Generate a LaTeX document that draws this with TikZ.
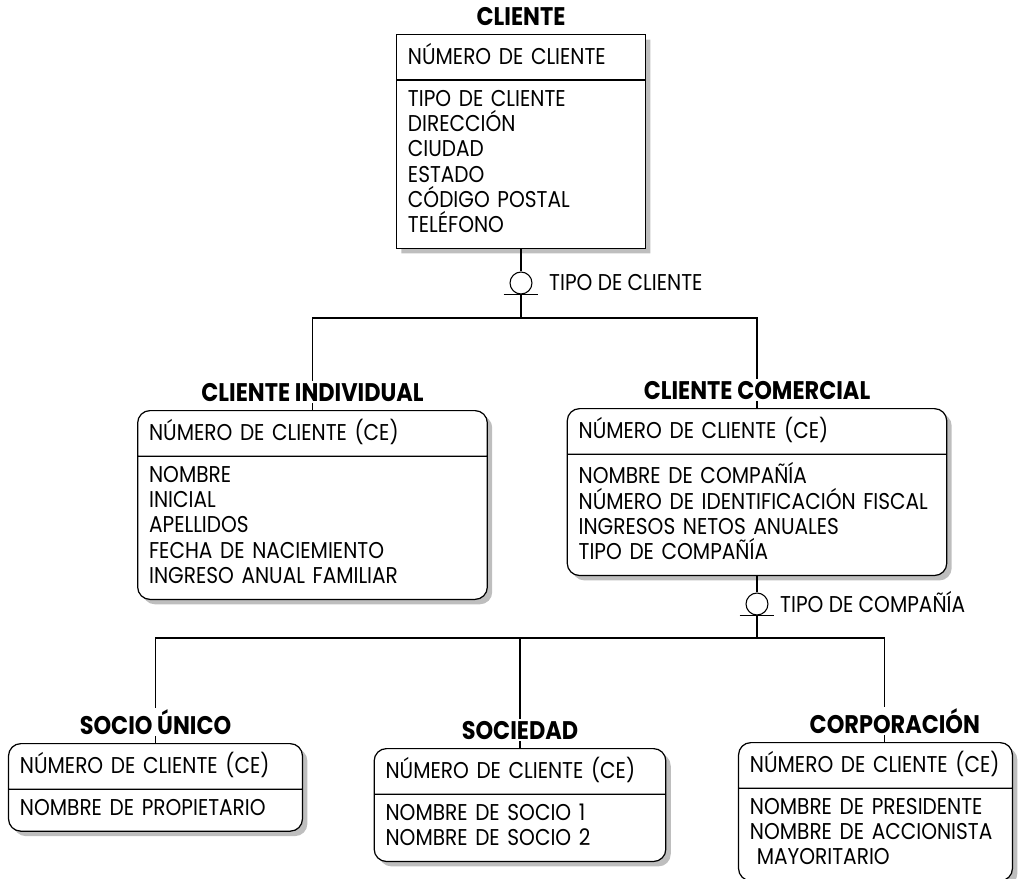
\documentclass[tikz,border=0pt]{standalone}
\usepackage{fontspec}
\setmainfont{Poppins}[FakeStretch=0.88]
\usepackage{tikz}
\usetikzlibrary{positioning, shapes.multipart, shadows}
\definecolor{sombra}{RGB}{190,190,190}
\newcommand\alto{\rule{0pt}{10.1pt}}
\newcommand\bajo{\rule[-4.3pt]{0pt}{4.3pt}}
\tikzset{
  entidad/.style={rectangle split, rectangle split parts=2, draw, line width=0.7pt,
    fill=white, rounded corners=7pt, align=left, inner xsep=6.5pt, inner ysep=4.4pt,
    drop shadow={shadow xshift=2.8pt, shadow yshift=-2.8pt, fill=sombra, opacity=1},
    font=\fontsize{13}{14.4}\selectfont},
  titulo/.style={fill=white, inner sep=1pt, anchor=base, font=\fontsize{14.5}{16}\selectfont\bfseries},
  linea/.style={line width=0.6pt},
  subtipo/.style={circle, draw, line width=0.6pt, fill=white, minimum size=12.5pt, inner sep=0pt},
  etiqueta/.style={anchor=west, font=\fontsize{13}{14.4}\selectfont}
}

\begin{document}
\begin{tikzpicture}[x=0.02cm, y=-0.02cm]
  \useasboundingbox (0,0) rectangle (1022,879);
  % entidades
  \node[entidad, sharp corners, anchor=north, text width=128.7pt] (cliente) at (521,34)
    {\alto NÚMERO DE CLIENTE\bajo
     \nodepart{two}\alto TIPO DE CLIENTE\\ DIRECCIÓN\\ CIUDAD\\ ESTADO\\ CÓDIGO POSTAL\\ TELÉFONO\bajo};
  \node[entidad, anchor=north, text width=186pt] (individual) at (312.5,410)
    {\alto NÚMERO DE CLIENTE (CE)\bajo
     \nodepart{two}\alto NOMBRE\\ INICIAL\\ APELLIDOS\\ FECHA DE NACIEMIENTO\\ INGRESO ANUAL FAMILIAR\bajo};
  \node[entidad, anchor=north, text width=203pt] (comercial) at (757,408)
    {\alto NÚMERO DE CLIENTE (CE)\bajo
     \nodepart{two}\alto NOMBRE DE COMPAÑÍA\\ NÚMERO DE IDENTIFICACIÓN FISCAL\\ INGRESOS NETOS ANUALES\\ TIPO DE COMPAÑÍA\bajo};
  \node[entidad, anchor=north, text width=154.3pt] (socio) at (155.5,743)
    {\alto NÚMERO DE CLIENTE (CE)\bajo
     \nodepart{two}\alto NOMBRE DE PROPIETARIO\bajo};
  \node[entidad, anchor=north, text width=153pt] (sociedad) at (520,748)
    {\alto NÚMERO DE CLIENTE (CE)\bajo
     \nodepart{two}\alto NOMBRE DE SOCIO 1\\ NOMBRE DE SOCIO 2\bajo};
  \node[entidad, anchor=north, text width=142.9pt] (corporacion) at (875.5,742)
    {\alto NÚMERO DE CLIENTE (CE)\bajo
     \nodepart{two}\alto NOMBRE DE PRESIDENTE\\ NOMBRE DE ACCIONISTA\\ \hspace*{0.3em}MAYORITARIO\bajo};

  % subtipos de cliente
  \node[subtipo] (s1) at (521,283) {};
  \coordinate (j1) at (521,318);
  \draw[linea] (cliente.south) -- (s1);
  \draw[linea] (s1) -- (j1);
  \draw[linea] ([xshift=-9.9pt]s1.south) -- ([xshift=9.9pt]s1.south);
  \draw[linea] (individual.north) |- (j1) -| (comercial.north);
  \node[etiqueta] (l1) at (543,283) {TIPO DE CLIENTE};

  % subtipos de cliente comercial
  \node[subtipo] (s2) at (757,604) {};
  \coordinate (j2) at (757,638);
  \draw[linea] (comercial.south) -- (s2);
  \draw[linea] (s2) -- (j2);
  \draw[linea] ([xshift=-9.9pt]s2.south) -- ([xshift=9.9pt]s2.south);
  \draw[linea] (socio.north) |- (j2) -| ([xshift=5.2pt]corporacion.north);
  \draw[linea] (sociedad.north) -- (sociedad.north |- j2);
  \node[etiqueta] (l2) at (774,602) {TIPO DE COMPAÑÍA};

  % nombres
  \node[titulo] (t1) at ([yshift=5pt]cliente.north) {CLIENTE};
  \node[titulo] (t2) at ([yshift=5pt]individual.north) {CLIENTE INDIVIDUAL};
  \node[titulo] (t3) at ([yshift=5pt]comercial.north) {CLIENTE COMERCIAL};
  \node[titulo] (t4) at ([yshift=5pt]socio.north) {SOCIO ÚNICO};
  \node[titulo] (t5) at ([yshift=5pt]sociedad.north) {SOCIEDAD};
  \node[titulo] (t6) at ([xshift=11pt,yshift=5pt]corporacion.north) {CORPORACIÓN};
\end{tikzpicture}
\end{document}
